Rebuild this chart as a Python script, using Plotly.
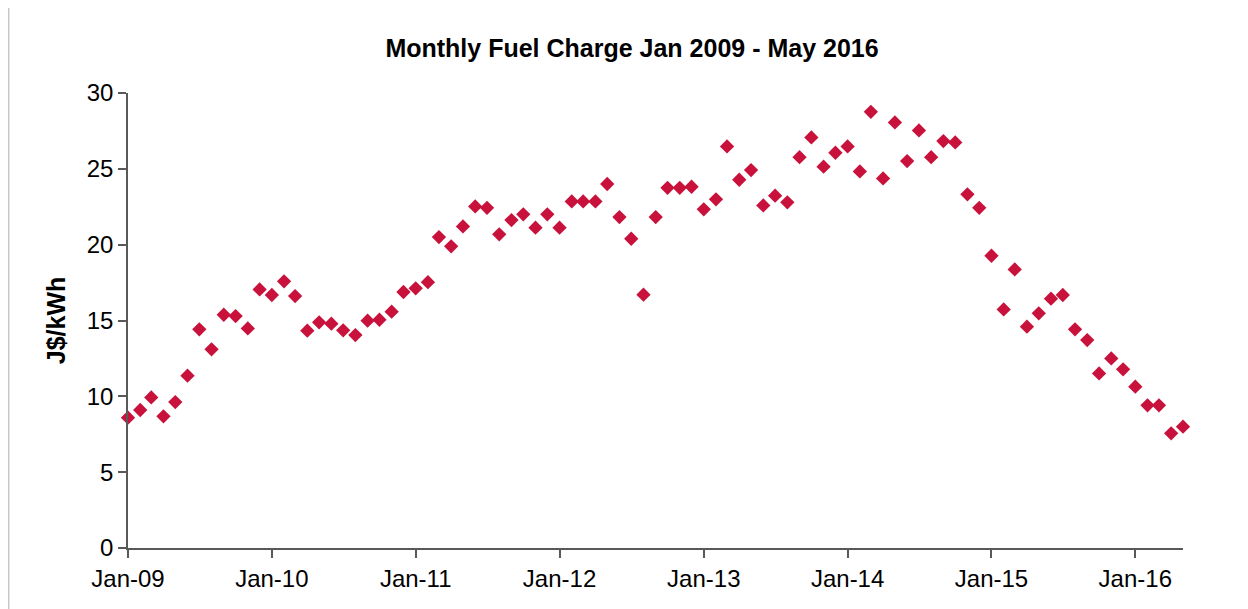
import pandas as pd
import plotly.graph_objects as go

months = pd.date_range("2009-01-01", "2016-05-01", freq="MS")

fuel_charge = [
    8.59, 9.10, 9.93, 8.68, 9.62, 11.36, 14.42, 13.10, 15.38, 15.29, 14.48, 17.05,
    16.68, 17.58, 16.61, 14.33, 14.88, 14.79, 14.35, 14.04, 14.99, 15.05, 15.58, 16.88,
    17.12, 17.53, 20.50, 19.89, 21.20, 22.52, 22.43, 20.68, 21.62, 22.00, 21.12, 22.00,
    21.12, 22.85, 22.85, 22.85, 24.00, 21.82, 20.39, 16.70, 21.82, 23.75, 23.75, 23.82,
    22.33, 22.99, 26.48, 24.28, 24.92, 22.59, 23.23, 22.79, 25.77, 27.07, 25.14, 26.06,
    26.48, 24.83, 28.76, 24.37, 28.06, 25.51, 27.53, 25.77, 26.83, 26.74, 23.32, 22.43,
    19.27, 15.73, 18.37, 14.59, 15.47, 16.44, 16.68, 14.42, 13.71, 11.51, 12.50, 11.78,
    10.64, 9.41, 9.41, 7.56, 8.00,
]

y_ticks = [0, 5, 10, 15, 20, 25, 30]
title_text = "Monthly Fuel Charge Jan 2009 - May 2016"
y_title = "J$/kWh"

fig = go.Figure()
fig.add_trace(go.Scatter(
    x=months, y=fuel_charge, mode="markers",
    marker=dict(symbol="diamond", size=11, color="#C8123C", line=dict(width=0)),
    cliponaxis=False, showlegend=False,
))

axis_color = "#595959"
W, H = 1248, 609
ml, mr, mt, mb = 120, 73, 85, 69
pw = W - ml - mr
ph = H - mt - mb

fig.update_layout(
    width=W, height=H,
    margin=dict(l=ml, r=mr, t=mt, b=mb),
    paper_bgcolor="white", plot_bgcolor="white",
    font=dict(family="Arial, Liberation Sans, sans-serif", size=24, color="black"),
    title=dict(text="<b>" + title_text + "</b>", x=0.5, xanchor="center",
               y=1 - 40 / H, yanchor="middle", font=dict(size=25)),
    xaxis=dict(
        type="date", range=[months[0], months[-1]],
        tick0="2009-01-01", dtick="M12", tickformat="%b-%y",
        showgrid=False, zeroline=False, showline=True, linecolor=axis_color, linewidth=1.5,
        ticks="outside", ticklen=8, tickcolor=axis_color, tickwidth=1.5,
        tickfont=dict(size=24),
    ),
    yaxis=dict(
        range=[0, 30], tickvals=y_ticks,
        showgrid=False, zeroline=False, showline=True, linecolor=axis_color, linewidth=1.5,
        ticks="outside", ticklen=8, tickcolor=axis_color, tickwidth=1.5,
        tickfont=dict(size=24),
        title=dict(text="<b>" + y_title + "</b>", font=dict(size=25), standoff=14),
    ),
    shapes=[dict(type="line", xref="paper", yref="paper",
                 x0=(0.75 - ml) / pw, x1=(0.75 - ml) / pw,
                 y0=(H - mb) / ph, y1=-mb / ph,
                 line=dict(color="#C8C8C8", width=1.5))],
)

fig.write_html("out.html")
